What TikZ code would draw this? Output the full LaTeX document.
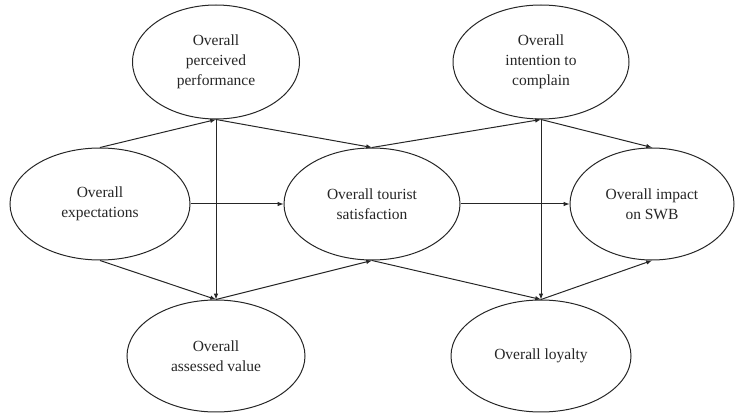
\documentclass[tikz,border=0pt]{standalone}
\usepackage{fontspec}
\setmainfont{Liberation Serif}
\usetikzlibrary{shapes,arrows,positioning}
\tikzstyle{construct}=[align=center, draw=black!85, line width=1pt, ellipse, inner sep=0pt, text=black!85, font=\fontsize{15.5}{20}\selectfont]
\tikzstyle{big construct}=[construct, minimum width=178pt, minimum height=112pt]
\tikzstyle{path arrow}=[->, >=latex, draw=black!85, line width=1pt]

\begin{document}
\begin{tikzpicture}[x=1pt,y=1pt]
\useasboundingbox (0,0) rectangle (740,-414);

\draw (100,-204) node[big construct, minimum width=180pt] (Expect) {Overall\\expectations};

\draw (Expect) ++(116,142) node[construct, minimum width=167pt, minimum height=114pt] (Perform)
{Overall\\perceived\\performance};

\draw (Expect) ++(116,-152) node[big construct] (Value) {Overall\\assessed value};

\draw (Expect) ++(272,0) node[big construct, minimum width=176pt] (Satisf)
{Overall tourist\\satisfaction};

\draw (Satisf) ++(169,142) node[construct, minimum width=176pt, minimum height=114pt] (Complain)
{Overall\\intention to\\complain};

\draw (Satisf) ++(169,-152) node[big construct, minimum width=180pt] (Loyalty) {Overall loyalty};

\draw (Satisf) ++(280,0) node[big construct, minimum width=164pt] (SWB) {Overall impact\\on SWB};

\draw[path arrow] (Expect.north) -- (Perform.south);
\draw[path arrow] (Expect) -- (Satisf);
\draw[path arrow] (Expect.south) -- (Value.north);
\draw[path arrow] (Perform.south) -- (Value.north);
\draw[path arrow] (Perform.south) -- (Satisf.north);
\draw[path arrow] (Value.north) -- (Satisf.south);

\draw[path arrow] (Satisf.north) -- (Complain.south);
\draw[path arrow] (Satisf) -- (SWB);
\draw[path arrow] (Satisf.south) -- (Loyalty.north);
\draw[path arrow] (Complain.south) -- (Loyalty.north);
\draw[path arrow] (Complain.south) -- (SWB.north);
\draw[path arrow] (Loyalty.north) -- (SWB.south);

\end{tikzpicture}
\end{document}
